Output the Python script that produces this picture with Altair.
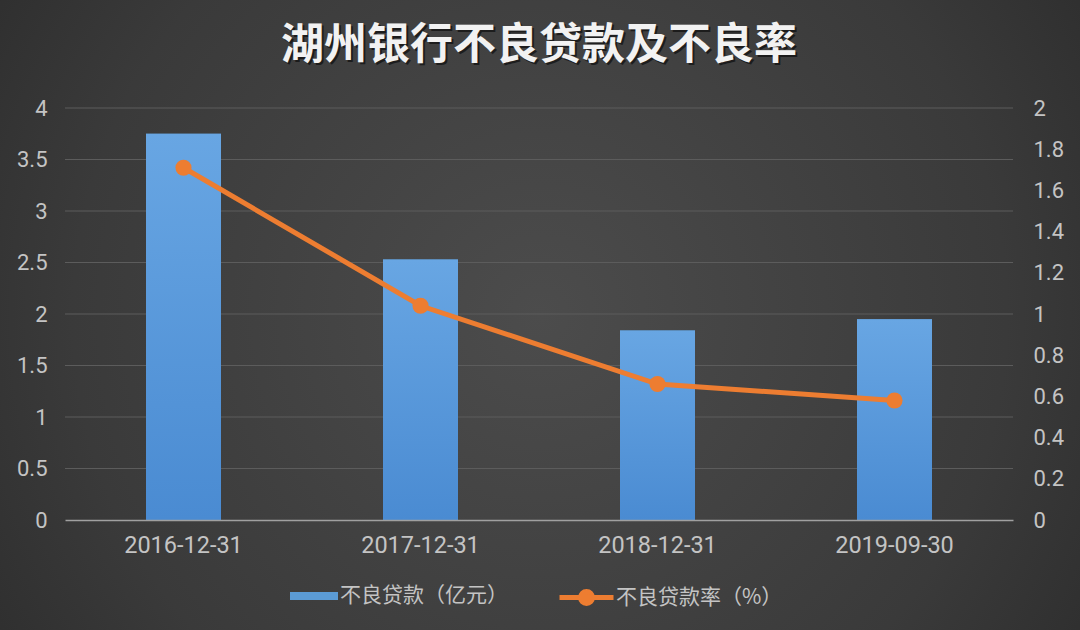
import altair as alt
import pandas as pd

# Reporting dates and the two series
dates = ["2016-12-31", "2017-12-31", "2018-12-31", "2019-09-30"]
npl_amount = [3.75, 2.53, 1.84, 1.95]      # 不良贷款（亿元）
npl_ratio = [1.71, 1.04, 0.66, 0.58]       # 不良贷款率（%）

amount_label = "不良贷款（亿元）"
ratio_label = "不良贷款率（%）"
title_text = "湖州银行不良贷款及不良率"

left_ticks = [0, 0.5, 1, 1.5, 2, 2.5, 3, 3.5, 4]
right_ticks = [0, 0.2, 0.4, 0.6, 0.8, 1, 1.2, 1.4, 1.6, 1.8, 2]

FONT = "Noto Sans CJK SC"
NUM_FONT = "Roboto"
TEXT_GREY = "#c4c4c4"
BLUE = "#5b9bd5"
ORANGE = "#ed7d31"

W, H = 948, 412
PAD = {"left": 65, "top": 108, "right": 67, "bottom": 110}

df = pd.DataFrame({
    "date": dates,
    "amount": npl_amount,
    "ratio": npl_ratio,
    "amount_series": [amount_label] * len(dates),
    "ratio_series": [ratio_label] * len(dates),
})

x_enc = alt.X(
    "date:N",
    sort=dates,
    scale=alt.Scale(paddingInner=0, paddingOuter=0),
    axis=alt.Axis(
        title=None, labelAngle=0, ticks=False, domain=True,
        domainColor="#a0a0a0", domainWidth=1.5, zindex=2,
        labelColor=TEXT_GREY, labelFont=NUM_FONT, labelFontSize=23.5,
        labelPadding=13, grid=False,
    ),
)

# Whole-canvas radial backdrop
backdrop = alt.Chart(pd.DataFrame({"k": [0]})).mark_rect(
    fill=alt.RadialGradient(
        gradient="radial",
        stops=[
            alt.GradientStop(offset=0, color="#4c4c4c"),
            alt.GradientStop(offset=0.6, color="#3a3a3a"),
            alt.GradientStop(offset=1, color="#262626"),
        ],
        x1=0.5, y1=0.5, r1=0, x2=0.5, y2=0.5, r2=0.72,
    )
).encode(
    x=alt.value(-PAD["left"]), x2=alt.value(W + PAD["right"]),
    y=alt.value(-PAD["top"]), y2=alt.value(H + PAD["bottom"]),
)

title_shadow = alt.Chart(pd.DataFrame({"t": [title_text]})).mark_text(
    font=FONT, fontSize=43, fontWeight="bold", color="#000000", opacity=0.55,
    baseline="middle", align="center",
).encode(x=alt.value(W / 2 + 2), y=alt.value(-62 + 2), text="t:N")

title = alt.Chart(pd.DataFrame({"t": [title_text]})).mark_text(
    font=FONT, fontSize=43, fontWeight="bold", color="#f2f2f2",
    baseline="middle", align="center",
).encode(x=alt.value(W / 2), y=alt.value(-62), text="t:N")

left_scale = alt.Scale(domain=[0, 4], nice=False)
left_axis = alt.Axis(
    orient="left", title=None, values=left_ticks, ticks=False, domain=False,
    grid=False, zindex=2,
    labelColor=TEXT_GREY, labelFont=NUM_FONT, labelFontSize=22, labelPadding=18,
    labelExpr="format(datum.value, '~g')",
)

# Horizontal gridlines at the left-axis tick values (zero is the x domain line)
grid = alt.Chart(pd.DataFrame({"amount": left_ticks[1:]})).mark_rule(
    color="#5c5c5c", strokeWidth=1
).encode(y=alt.Y("amount:Q", scale=left_scale, axis=left_axis))

bars = alt.Chart(df).mark_bar(size=75).encode(
    x=x_enc,
    y=alt.Y("amount:Q", scale=left_scale, axis=left_axis),
    fill=alt.Fill(
        "amount_series:N",
        scale=alt.Scale(domain=[amount_label], range=[BLUE]),
        legend=alt.Legend(
            title=None, orient="none", legendX=225, legendY=464,
            symbolType="M-1,-0.17H1V0.17H-1Z", symbolSize=2304,
            symbolStrokeWidth=0, symbolOpacity=1, labelLimit=400,
            labelColor=TEXT_GREY, labelFont=FONT, labelFontSize=21,
            labelOffset=2,
        ),
    ),
)

bars_shade = alt.Chart(df).mark_bar(
    size=75,
    fill=alt.LinearGradient(
        gradient="linear",
        stops=[
            alt.GradientStop(offset=0, color="#68a6e3"),
            alt.GradientStop(offset=1, color="#4a8bd2"),
        ],
        x1=0, x2=0, y1=0, y2=1,
    ),
).encode(x=x_enc, y=alt.Y("amount:Q", scale=left_scale, axis=left_axis))

right_scale = alt.Scale(domain=[0, 2], nice=False)
right_axis = alt.Axis(
    orient="right", title=None, values=right_ticks, ticks=False, domain=False,
    grid=False, zindex=2, labelColor=TEXT_GREY, labelFont=NUM_FONT,
    labelFontSize=22, labelPadding=20,
    labelExpr="format(datum.value, '~g')",
)

line = alt.Chart(df).mark_line(strokeWidth=5).encode(
    x=x_enc,
    y=alt.Y("ratio:Q", scale=right_scale, axis=right_axis),
    stroke=alt.Stroke(
        "ratio_series:N",
        scale=alt.Scale(domain=[ratio_label], range=[ORANGE]),
        legend=alt.Legend(
            title=None, orient="none", legendX=492, legendY=460,
            symbolType="M-1,0H1M-0.22,0A0.22,0.22 0 1,0 0.22,0A0.22,0.22 0 1,0 -0.22,0",
            symbolSize=2916, symbolStrokeWidth=5, symbolFillColor=ORANGE,
            symbolStrokeColor=ORANGE, labelLimit=400,
            labelColor=TEXT_GREY, labelFont=FONT, labelFontSize=21,
            labelOffset=0,
        ),
    ),
)

points = alt.Chart(df).mark_point(
    filled=True, size=260, color=ORANGE, opacity=1
).encode(
    x=x_enc,
    y=alt.Y("ratio:Q", scale=right_scale, axis=right_axis),
)

left_layer = alt.layer(grid, bars, bars_shade)
right_layer = alt.layer(line, points)

chart = alt.layer(
    backdrop, title_shadow, title, left_layer, right_layer
).resolve_scale(
    y="independent", fill="independent", stroke="independent"
).properties(
    width=W, height=H,
    autosize=alt.AutoSizeParams(type="none"),
    padding=PAD,
    background="#2e2e2e",
).configure_view(stroke=None)

chart.save("out.html", embed_options={"renderer": "svg", "actions": False})
